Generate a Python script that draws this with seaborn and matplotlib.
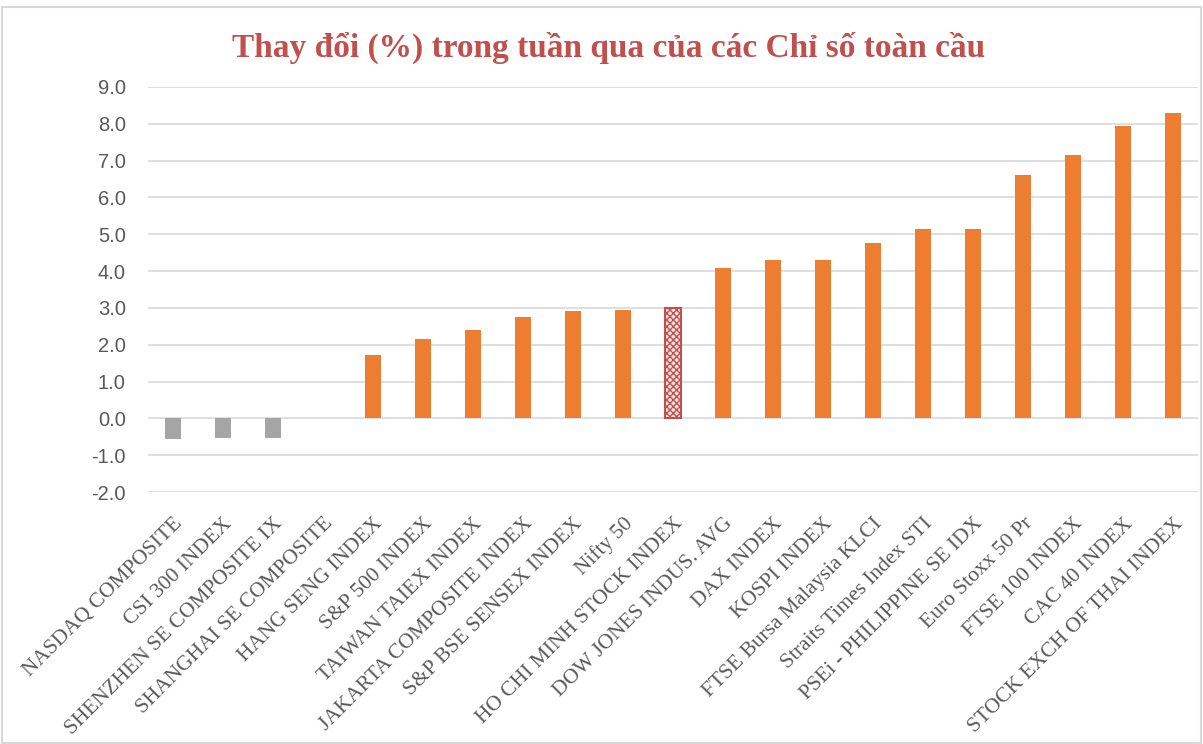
import matplotlib
matplotlib.use("Agg")
import matplotlib.pyplot as plt
import seaborn as sns
import pandas as pd

# Weekly change (%) of global indices
indices = ['NASDAQ COMPOSITE', 'CSI 300 INDEX', 'SHENZHEN SE COMPOSITE IX', 'SHANGHAI SE COMPOSITE',
           'HANG SENG INDEX', 'S&P 500 INDEX', 'TAIWAN TAIEX INDEX', 'JAKARTA COMPOSITE INDEX',
           'S&P BSE SENSEX INDEX', 'Nifty 50', 'HO CHI MINH STOCK INDEX', 'DOW JONES INDUS. AVG',
           'DAX INDEX', 'KOSPI INDEX', 'FTSE Bursa Malaysia KLCI', 'Straits Times Index STI',
           'PSEi - PHILIPPINE SE IDX', 'Euro Stoxx 50 Pr', 'FTSE 100 INDEX', 'CAC 40 INDEX',
           'STOCK EXCH OF THAI INDEX']
changes = [-0.55, -0.52, -0.52, 0.0, 1.73, 2.15, 2.39, 2.74, 2.91, 2.94, 3.0, 4.08,
           4.29, 4.29, 4.76, 5.13, 5.13, 6.6, 7.15, 7.94, 8.29]
y_ticks = [-2, -1, 0, 1, 2, 3, 4, 5, 6, 7, 8, 9]
highlight = 'HO CHI MINH STOCK INDEX'

df = pd.DataFrame({'Index': indices, 'Change': changes})

sns.set_style("white")
plt.rcParams['hatch.linewidth'] = 1.0

orange = '#ED7D31'
grey = '#A5A5A5'
red = '#C0504D'
colors = {}
for name, v in zip(indices, changes):
    if name == highlight:
        colors[name] = '#F8E4E3'
    elif v < 0:
        colors[name] = grey
    else:
        colors[name] = orange

fig = plt.figure(figsize=(12.03, 7.44), dpi=100)
ax = fig.add_axes([0.123, 0.3387, 0.873, 0.5444])

sns.barplot(data=df, x='Index', y='Change', hue='Index', palette=colors,
            saturation=1, legend=False, width=0.32, ax=ax, zorder=3)

for p, name in zip(ax.patches, indices):
    if name == highlight:
        p.set_hatch('xxxxx')
        p.set_edgecolor(red)
        p.set_linewidth(1.5)
    else:
        p.set_edgecolor('none')

ax.set_ylim(-2, 9)
ax.set_xlim(-0.5, len(indices) - 0.5)
ax.set_yticks(y_ticks)
ax.set_yticklabels([f'{t:.1f}' for t in y_ticks], fontsize=14.5, color='#595959',
                   family='Liberation Sans')
ax.tick_params(axis='y', length=0, pad=16)
ax.tick_params(axis='x', length=0, pad=16)
ax.set_xticks(range(len(indices)))
ax.set_xticklabels(indices, rotation=45, ha='right', rotation_mode='anchor',
                   fontsize=15.5, color='#595959', family='Liberation Serif')
ax.set_xlabel('')
ax.set_ylabel('')
ax.grid(True, axis='y', color='#D9D9D9', linewidth=1.2, zorder=0)
for s in ax.spines.values():
    s.set_visible(False)

fig.text(0.506, 0.936, 'Thay đổi (%) trong tuần qua của các Chỉ số toàn cầu',
         ha='center', va='center', fontsize=24, fontweight='bold', color=red,
         family='Liberation Serif')

# outer chart border
fig.patches.append(plt.Rectangle((0.002, 0.002), 0.996, 0.988, transform=fig.transFigure,
                                 fill=False, edgecolor='#D9D9D9', linewidth=1.5))

fig.savefig('out.png', dpi=100)
